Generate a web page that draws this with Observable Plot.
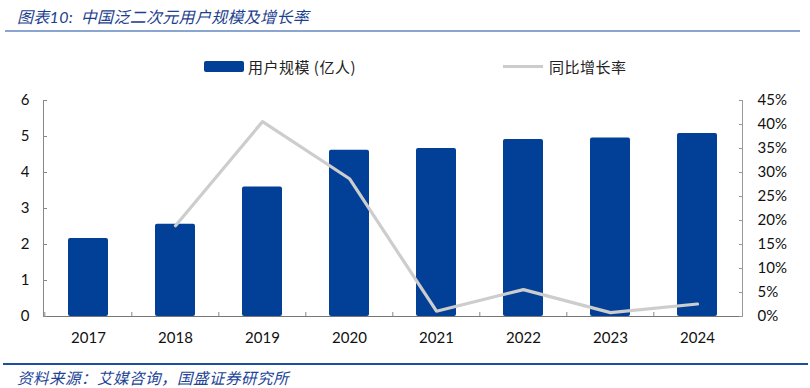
<!DOCTYPE html>
<html>
<head>
<meta charset="utf-8">
<script src="https://cdn.jsdelivr.net/npm/d3@7"></script>
<script src="https://cdn.jsdelivr.net/npm/@observablehq/plot@0.6"></script>
<style>
  html, body { margin: 0; padding: 0; background: #fff; }
  #wrap { position: relative; width: 810px; height: 388px; overflow: hidden; font-family: "Noto Sans CJK SC", sans-serif; }
  #chart { position: absolute; left: 0; top: 0; }
  .title { position: absolute; left: 17px; top: 4px; font-size: 16px; font-style: italic; color: #1d3f8f; white-space: nowrap; letter-spacing: 0.3px; }
  .title .num { font-family: Lato, sans-serif; font-weight: 400; }
  .topline { position: absolute; left: 5px; top: 30px; width: 795px; height: 2px; background: #8aa5d0; }
  .botline { position: absolute; left: 3px; top: 363px; width: 805px; height: 2px; background: #1c4fa0; }
  .foot { position: absolute; left: 17px; top: 366px; font-size: 15.5px; font-style: italic; color: #1d4597; white-space: nowrap; letter-spacing: 0.5px; }
  .legend { position: absolute; top: 56px; font-size: 15px; color: #222; white-space: nowrap; display: flex; align-items: center; letter-spacing: 0.5px; }
  .sw-bar { width: 40px; height: 11px; background: #023f96; border-radius: 2px; margin-right: 4px; }
  .sw-line { width: 40px; height: 3px; background: #cccccc; margin-right: 6px; }
</style>
</head>
<body>
<div id="wrap">
  <div id="chart"></div>
  <div class="title">图表<span class="num">10:</span>&nbsp;&nbsp;中国泛二次元用户规模及增长率</div>
  <div class="topline"></div>
  <div class="legend" style="left:204px;"><div class="sw-bar"></div><span>用户规模 (亿人)</span></div>
  <div class="legend" style="left:503px;"><div class="sw-line"></div><span>同比增长率</span></div>
  <div class="botline"></div>
  <div class="foot">资料来源：艾媒咨询，国盛证券研究所</div>
</div>
<script>
const years = ["2017", "2018", "2019", "2020", "2021", "2022", "2023", "2024"];
const users = [2.17, 2.56, 3.60, 4.62, 4.67, 4.92, 4.96, 5.08];
const growthYears = ["2018", "2019", "2020", "2021", "2022", "2023", "2024"];
const growth = [18.9, 40.6, 28.7, 1.1, 5.6, 0.8, 2.6];
const leftTicks = [0, 1, 2, 3, 4, 5, 6];
const rightTicks = [0, 5, 10, 15, 20, 25, 30, 35, 40, 45];

const LEFT_MAX = 6, RIGHT_MAX = 45;
const toLeft = p => p * LEFT_MAX / RIGHT_MAX;

const barData = years.map((y, i) => ({year: y, value: users[i]}));
const lineData = growthYears.map((y, i) => ({year: y, value: toLeft(growth[i])}));

const W = 810, H = 388;
const mL = 43, mR = 68, mT = 100, mB = 72;
const step = (W - mL - mR) / years.length;
const frameH = H - mT - mB;

const chart = Plot.plot({
  width: W,
  height: H,
  marginLeft: mL,
  marginRight: mR,
  marginTop: mT,
  marginBottom: mB,
  style: {fontFamily: "Lato, 'Noto Sans', sans-serif", fontSize: "15px", color: "#111", background: "transparent"},
  x: {domain: years, paddingInner: 0.54, paddingOuter: 0.27, label: null},
  y: {domain: [0, LEFT_MAX], label: null},
  marks: [
    Plot.barY(barData, {x: "year", y: "value", fill: "#023f96", rx: 2}),
    Plot.ruleY([0], {stroke: "#777", strokeWidth: 1}),
    Plot.ruleX(years, {x: d => d, dx: -step / 2, stroke: "#888", insetTop: frameH - 4}),
    Plot.frame({anchor: "left", stroke: "#888"}),
    Plot.frame({anchor: "right", stroke: "#999"}),
    Plot.line(lineData, {x: "year", y: "value", stroke: "#cdcdcd", strokeWidth: 3.2}),
    Plot.axisY(leftTicks, {anchor: "left", tickSize: 4, dx: 4, tickPadding: 14, stroke: "#888", fontSize: 15, label: null}),
    Plot.axisY(rightTicks.map(toLeft), {anchor: "right", tickSize: 4, dx: -4, tickPadding: 15, stroke: "#999", fontSize: 15,
      tickFormat: d => Math.round(d * RIGHT_MAX / LEFT_MAX) + "%", label: null}),
    Plot.axisX({tickSize: 0, tickPadding: 16, fontSize: 15, label: null})
  ]
});
document.getElementById("chart").appendChild(chart);
</script>
</body>
</html>
